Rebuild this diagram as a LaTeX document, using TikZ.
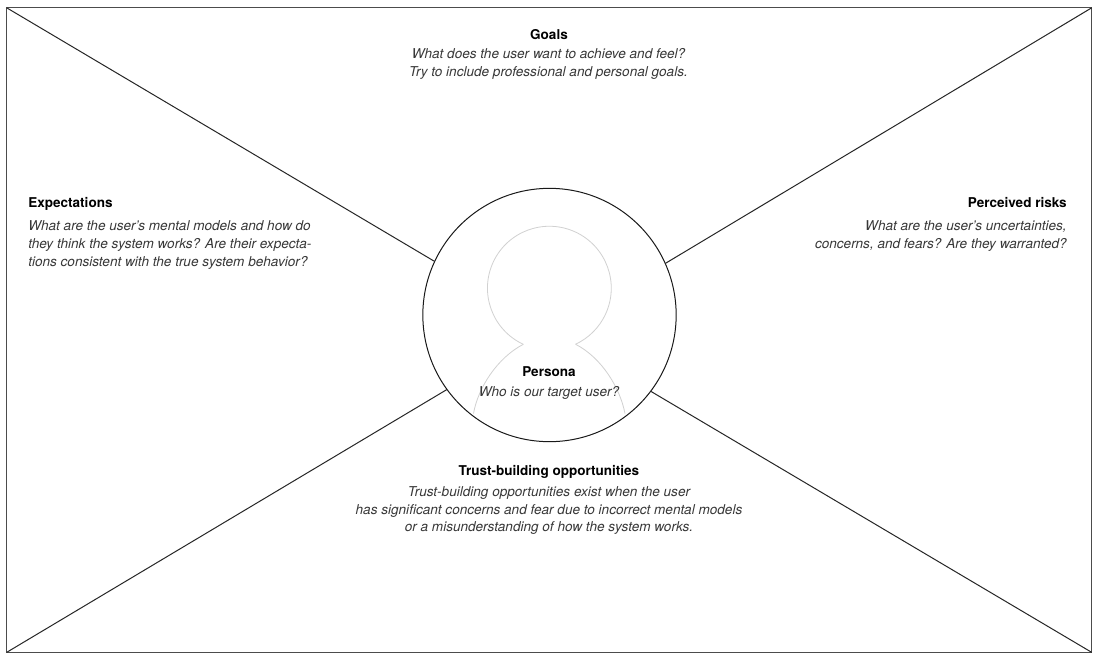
\documentclass[tikz,border=0pt]{standalone}
\usepackage{fontspec}
\setmainfont{TeX Gyre Heros}
\begin{document}
\begin{tikzpicture}[x=0.75pt,y=-0.75pt,
  edge/.style={draw=black!85,line width=0.75pt},
  title/.style={font=\fontsize{10.15}{13.4}\selectfont\bfseries,text=black,inner sep=0pt},
  body/.style={font=\fontsize{10.18}{13.4}\selectfont\itshape,text=black!78,inner sep=0pt},
  figure/.style={draw=black!18,line width=0.6pt}]
\useasboundingbox (0,0) rectangle (1100,662);
\fill[white] (0,0) rectangle (1100,662);
\node[draw=black!70,line width=1pt,outer sep=0pt,minimum width=813.75pt,minimum height=483.4pt,inner sep=0pt,anchor=north west] (frame) at (6.7,7.8) {};
\node[circle,draw=black!90,line width=0.75pt,outer sep=0pt,minimum size=190pt,inner sep=0pt] (persona) at (549.5,315) {};
\draw[edge] (frame.north west) -- (persona.155.4);
\draw[edge] (frame.north east) -- (persona.24.9);
\draw[edge] (frame.south west) -- (persona.216.5);
\draw[edge] (frame.south east) -- (persona.323.1);
\draw[figure] (523.3,344.3) arc[start angle=114.9,end angle=425.1,radius=61.9];
\draw[figure] (523.3,344.3) .. controls (497,358) and (478,388) .. (473.5,413.5);
\draw[figure] (575.7,344.3) .. controls (602,358) and (620,388) .. (625,413.5);
\node[title,anchor=base] (goalsT) at (549,39.2) {Goals};
\node[body,anchor=north,align=center] (goalsB) at (548.5,48.2) {What does the user want to achieve and feel?\\Try to include professional and personal goals.};
\node[title,anchor=base west] (expT) at (28,207) {Expectations};
\node[body,anchor=north west,align=left] (expB) at (28,220.8) {What are the user's mental models and how do\\they think the system works? Are their expecta-\\tions consistent with the true system behavior?};
\node[title,anchor=base east] (riskT) at (1067,207) {Perceived risks};
\node[body,anchor=north east,align=right] (riskB) at (1067,220.6) {What are the user's uncertainties,\\concerns, and fears? Are they warranted?};
\node[title,anchor=base] (perT) at (549,376) {Persona};
\node[body,anchor=base] (perB) at (549,396) {Who is our target user?};
\node[title,anchor=base] (trustT) at (549,475) {Trust-building opportunities};
\node[body,anchor=north,align=center] (trustB) at (549,486) {Trust-building opportunities exist when the user\\has significant concerns and fear due to incorrect mental models\\or a misunderstanding of how the system works.};
\end{tikzpicture}
\end{document}
